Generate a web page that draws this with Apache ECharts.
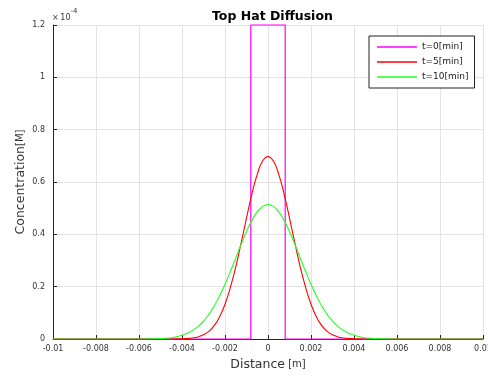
<!DOCTYPE html>
<html>
<head>
<meta charset="utf-8">
<script src="https://cdn.jsdelivr.net/npm/echarts@6/dist/echarts.min.js"></script>
<style>
  html, body { margin: 0; padding: 0; background: #fff; }
  #chart { width: 488px; height: 382px; }
</style>
</head>
<body>
<div id="chart"></div>
<script>
// concentration values in units of 1e-4 M
const distance = [
  -0.01,
  -0.006, -0.00575, -0.0055, -0.00525, -0.005, -0.00475, -0.0045, -0.00425,
  -0.004, -0.00375, -0.0035, -0.00325, -0.003, -0.00275, -0.0025, -0.00225,
  -0.002, -0.00175, -0.0015, -0.00125, -0.001, -0.00075, -0.0005, -0.00025,
  0,
  0.00025, 0.0005, 0.00075, 0.001, 0.00125, 0.0015, 0.00175, 0.002,
  0.00225, 0.0025, 0.00275, 0.003, 0.00325, 0.0035, 0.00375, 0.004,
  0.00425, 0.0045, 0.00475, 0.005, 0.00525, 0.0055, 0.00575, 0.006,
  0.01
];
const t5 = [
  0,
  0, 0, 0, 0, 0, 0, 0.0001, 0.0003,
  0.001, 0.002, 0.004, 0.008, 0.016, 0.029, 0.051, 0.085,
  0.133, 0.197, 0.275, 0.367, 0.462, 0.554, 0.629, 0.680,
  0.697,
  0.680, 0.629, 0.554, 0.462, 0.367, 0.275, 0.197, 0.133,
  0.085, 0.051, 0.029, 0.016, 0.008, 0.004, 0.002, 0.001,
  0.0003, 0.0001, 0, 0, 0, 0, 0, 0,
  0
];
const t10 = [
  0,
  0.0001, 0.0002, 0.0005, 0.001, 0.002, 0.003, 0.005, 0.009,
  0.014, 0.022, 0.033, 0.048, 0.068, 0.094, 0.126, 0.165,
  0.209, 0.258, 0.309, 0.362, 0.411, 0.453, 0.486, 0.507,
  0.514,
  0.507, 0.486, 0.453, 0.411, 0.362, 0.309, 0.258, 0.209,
  0.165, 0.126, 0.094, 0.068, 0.048, 0.033, 0.022, 0.014,
  0.009, 0.005, 0.003, 0.002, 0.001, 0.0005, 0.0002, 0.0001,
  0
];
const hatX = [-0.01, -0.0008, -0.0008, 0.0008, 0.0008, 0.01];
const hatY = [0, 0, 1.2, 1.2, 0, 0];
const seriesNames = ['t=0[min]', 't=5[min]', 't=10[min]'];

const zip = (xs, ys) => xs.map((x, i) => [x, ys[i]]);

const chart = echarts.init(document.getElementById('chart'), null, { renderer: 'canvas' });
const labelFont = { fontFamily: 'DejaVu Sans', fontSize: 8, color: '#333' };

chart.setOption({
  animation: false,
  backgroundColor: '#fff',
  title: {
    text: 'Top Hat Diffusion',
    left: 207, top: 5,
    textStyle: { fontFamily: 'DejaVu Sans', fontSize: 12.5, fontWeight: 'bold', color: '#000' }
  },
  legend: {
    data: seriesNames,
    orient: 'vertical',
    left: 369, top: 36,
    padding: [6, 6, 6, 8],
    itemGap: 5,
    itemWidth: 40, itemHeight: 1.5,
    icon: 'rect',
    backgroundColor: '#fff',
    borderColor: '#222', borderWidth: 1, borderRadius: 0,
    textStyle: { fontFamily: 'DejaVu Sans', fontSize: 9, color: '#222', lineHeight: 10 }
  },
  graphic: [{
    type: 'text', left: 52, top: 8,
    style: {
      text: '{a|×\u200910}{b|-4}',
      rich: {
        a: { fontFamily: 'DejaVu Sans', fontSize: 8, fill: '#333', padding: [6, 0, 0, 0] },
        b: { fontFamily: 'DejaVu Sans', fontSize: 7, fill: '#333', verticalAlign: 'top' }
      }
    }
  }],
  grid: { left: 53, right: 5, top: 25, bottom: 43, containLabel: false, outerBoundsMode: 'none' },
  xAxis: {
    type: 'value', min: -0.01, max: 0.01, interval: 0.002,
    name: '{m|Distance}{s| [m]}', nameLocation: 'middle', nameGap: 19,
    nameTextStyle: {
      rich: {
        m: { fontFamily: 'DejaVu Sans', fontSize: 12.5, color: '#333' },
        s: { fontFamily: 'DejaVu Sans', fontSize: 10, color: '#333' }
      }
    },
    axisLine: { onZero: false, lineStyle: { color: '#262626', width: 1 } },
    axisTick: { inside: true, length: 4, lineStyle: { color: '#262626' } },
    axisLabel: Object.assign({ margin: 6, formatter: v => String(+v.toFixed(4)) }, labelFont),
    splitLine: { show: true, lineStyle: { color: '#e3e3e3', width: 1 } }
  },
  yAxis: {
    type: 'value', min: 0, max: 1.2, interval: 0.2,
    name: '{m|Concentration}{s|[M]}', nameLocation: 'middle', nameGap: 26,
    nameMoveOverlap: false,
    nameTextStyle: {
      rich: {
        m: { fontFamily: 'DejaVu Sans', fontSize: 12.5, color: '#333' },
        s: { fontFamily: 'DejaVu Sans', fontSize: 10, color: '#333' }
      }
    },
    axisLine: { show: true, onZero: false, lineStyle: { color: '#262626', width: 1 } },
    axisTick: { show: true, inside: true, length: 4, lineStyle: { color: '#262626' } },
    axisLabel: Object.assign({ margin: 8, formatter: v => String(+v.toFixed(1)) }, labelFont),
    splitLine: { show: true, lineStyle: { color: '#e3e3e3', width: 1 } }
  },
  series: [
    {
      name: seriesNames[0], type: 'line', data: zip(hatX, hatY),
      symbol: 'none', clip: false, color: '#ff00ff',
      lineStyle: { color: '#ff00ff', width: 1.2 }
    },
    {
      name: seriesNames[1], type: 'line', data: zip(distance, t5),
      symbol: 'none', smooth: 0.5, color: '#ff0000',
      lineStyle: { color: '#ff0000', width: 1.1 }
    },
    {
      name: seriesNames[2], type: 'line', data: zip(distance, t10),
      symbol: 'none', smooth: 0.5, color: '#22ff22',
      lineStyle: { color: '#22ff22', width: 1.1 }
    }
  ]
});
</script>
</body>
</html>
